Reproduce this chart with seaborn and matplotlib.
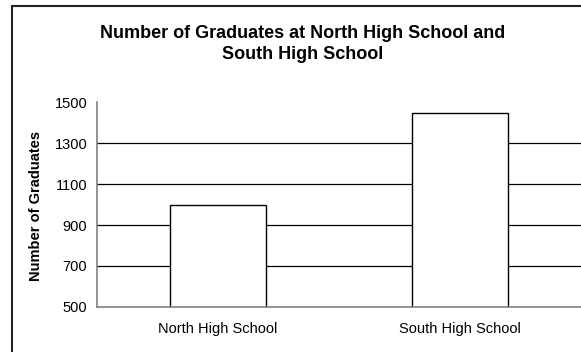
import matplotlib
matplotlib.use("Agg")
import matplotlib.pyplot as plt
from matplotlib.lines import Line2D
import seaborn as sns
import pandas as pd

# Chart data
schools = ["North High School", "South High School"]
graduates = [1000, 1450]
y_ticks = [500, 700, 900, 1100, 1300, 1500]

sns.set_style("white")
plt.rcParams['font.family'] = ['Liberation Sans', 'DejaVu Sans']
plt.rcParams['text.color'] = 'black'
plt.rcParams['xtick.color'] = 'black'
plt.rcParams['ytick.color'] = 'black'

df = pd.DataFrame({"School": schools, "Graduates": graduates})

fig = plt.figure(figsize=(5.81, 3.52), dpi=100)
ax = fig.add_axes([97 / 581, 1 - 306.7 / 352, 1 - 97 / 581, (306.7 - 102.5) / 352])

# Gridlines (behind bars)
for v in y_ticks[1:-1]:
    ax.axhline(v, color="black", lw=0.9, zorder=0)

sns.barplot(data=df, x="School", y="Graduates", color="white", edgecolor="black",
            linewidth=1.0, width=0.4, ax=ax, zorder=2)

ax.set_ylim(500, 1500)
ax.set_xlim(-0.5, 1.5)
ax.set_yticks(y_ticks)
ax.set_yticklabels([str(t) for t in y_ticks], fontsize=10.5)
ax.set_xticks(range(len(schools)))
ax.set_xticklabels(schools, fontsize=10.5)
ax.tick_params(axis="x", which="major", length=0, pad=11)
ax.set_xticks([-0.5, 0.5, 1.5], minor=True)
ax.tick_params(axis="x", which="minor", length=4, width=1, color="black", direction="out")
ax.tick_params(axis="y", length=4, width=1, color="black", direction="out", pad=3)

for side in ["top", "right"]:
    ax.spines[side].set_visible(False)
for side in ["left", "bottom"]:
    ax.spines[side].set_color("#808080")
    ax.spines[side].set_linewidth(1.2)

ax.set_xlabel("")
ax.set_ylabel("")
fig.text(36 / 581, 1 - 206 / 352, "Number of Graduates", rotation=90, fontsize=10.5,
         fontweight="bold", ha="center", va="center")

fig.text(303 / 581, 1 - 44 / 352,
         "Number of Graduates at North High School and\nSouth High School",
         fontsize=13, fontweight="bold", ha="center", va="center", linespacing=1.3)

# Chart area border (left and top visible)
fig.add_artist(Line2D([12 / 581, 12 / 581], [0, 1 - 6 / 352], color="#222222", lw=1.5,
                      transform=fig.transFigure))
fig.add_artist(Line2D([12 / 581, 1], [1 - 6 / 352, 1 - 6 / 352], color="#222222", lw=1.5,
                      transform=fig.transFigure))

fig.savefig("out.png", dpi=100)
